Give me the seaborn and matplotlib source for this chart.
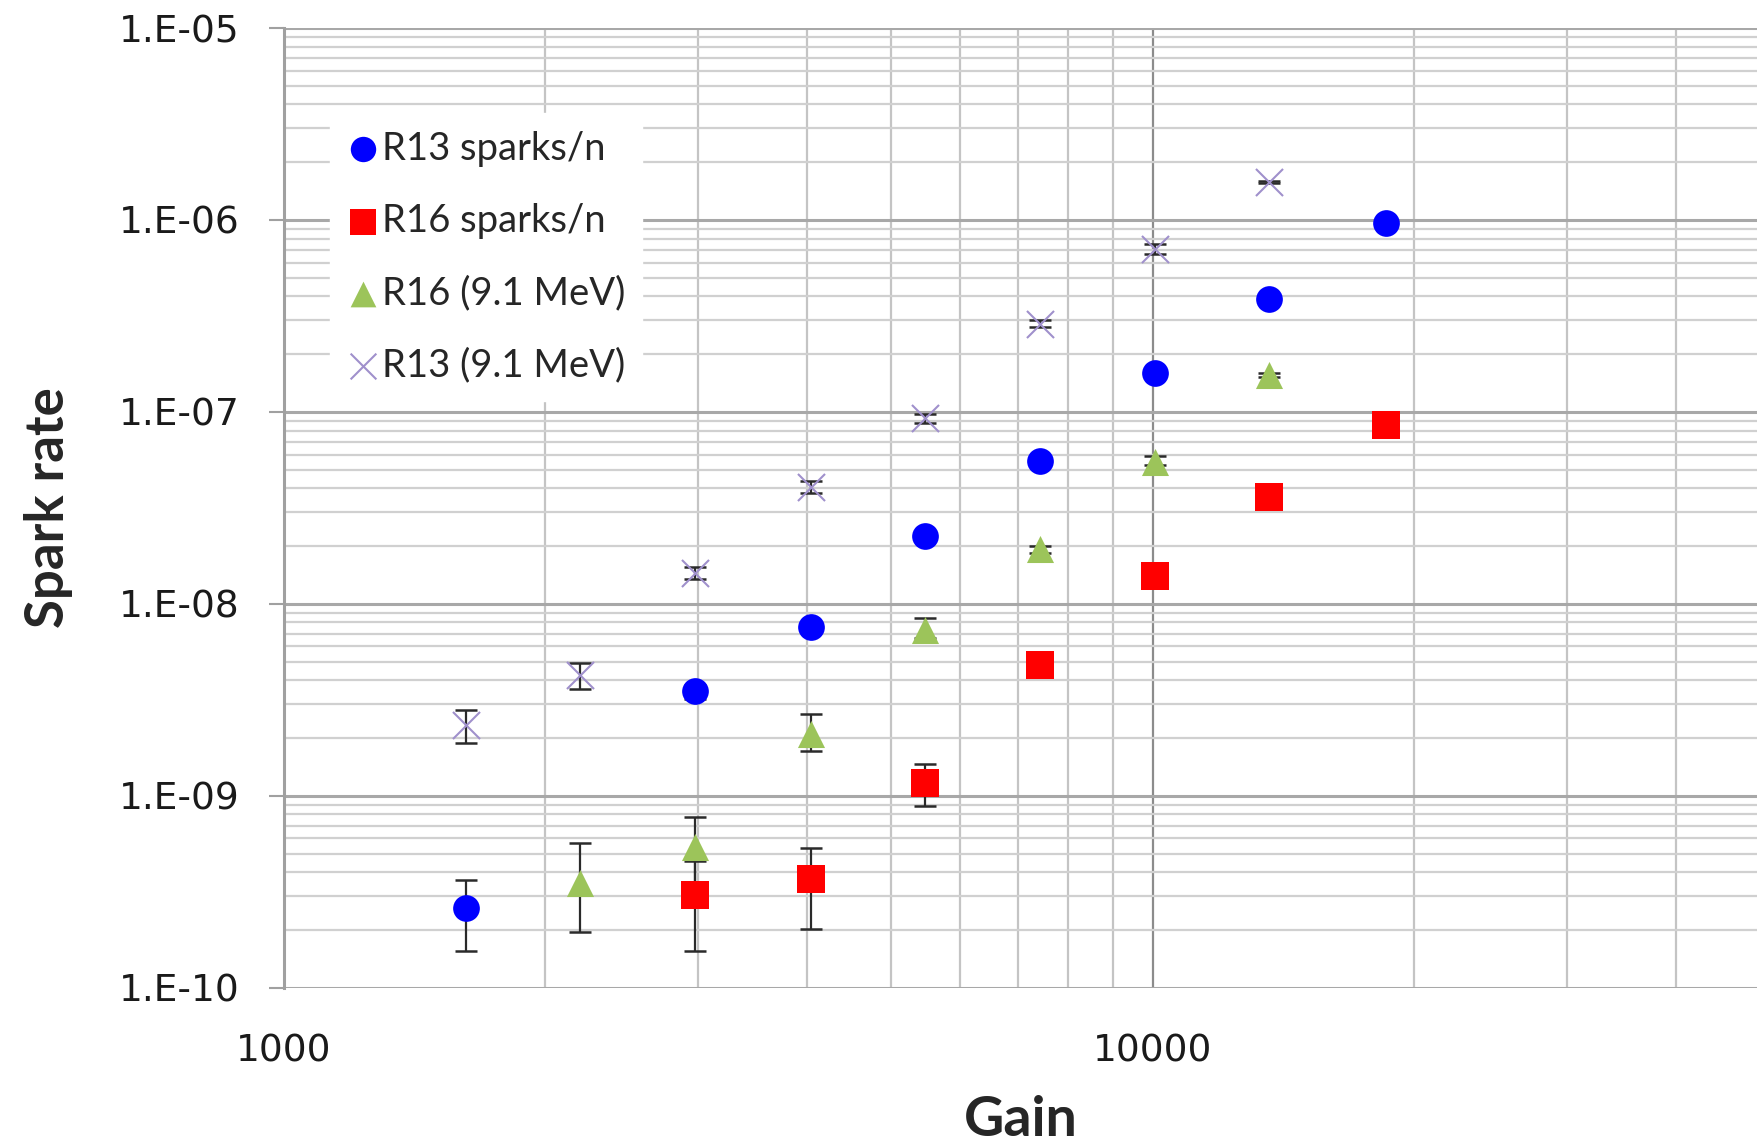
import numpy as np
import matplotlib
matplotlib.use("Agg")
import matplotlib.pyplot as plt
from matplotlib.ticker import FixedLocator, FuncFormatter, NullFormatter
import seaborn as sns

# values (error bars as lower / upper lengths)
r13_gain = [1620, 2975, 4040, 5470, 7430, 10060, 13620, 18550]
r13_rate = [2.6e-10, 3.5e-9, 7.6e-9, 2.26e-8, 5.56e-8, 1.59e-7, 3.86e-7, 9.63e-7]
r13_err_lo = [1.05e-10, 0.3e-9, 0, 0, 0, 0, 0, 0]
r13_err_hi = [1.05e-10, 0.3e-9, 0, 0, 0, 0, 0, 0]

r16_gain = [2975, 4040, 5470, 7430, 10060, 13620, 18550]
r16_rate = [3.05e-10, 3.67e-10, 1.16e-9, 4.81e-9, 1.39e-8, 3.62e-8, 8.56e-8]
r16_err_lo = [1.5e-10, 1.65e-10, 0.28e-9, 0, 0, 0, 0]
r16_err_hi = [1.5e-10, 1.7e-10, 0.3e-9, 0, 0, 0, 0]

r16mev_gain = [2190, 2975, 4040, 5470, 7430, 10060, 13620]
r16mev_rate = [3.5e-10, 5.4e-10, 2.1e-9, 7.31e-9, 1.92e-8, 5.49e-8, 1.55e-7]
r16mev_err_lo = [1.55e-10, 2.4e-10, 0.39e-9, 0.7e-9, 0.8e-9, 2e-9, 3e-9]
r16mev_err_hi = [2.2e-10, 2.4e-10, 0.56e-9, 1.1e-9, 0.8e-9, 4e-9, 5e-9]

r13mev_gain = [1620, 2190, 2975, 4040, 5470, 7430, 10060, 13620]
r13mev_rate = [2.34e-9, 4.26e-9, 1.45e-8, 4.08e-8, 9.27e-8, 2.88e-7, 7.07e-7, 1.57e-6]
r13mev_err_lo = [0.45e-9, 0.65e-9, 1.0e-9, 3e-9, 5e-9, 1.2e-8, 4e-8, 2e-8]
r13mev_err_hi = [0.45e-9, 0.65e-9, 1.0e-9, 3e-9, 5e-9, 1.2e-8, 4e-8, 2e-8]

sns.set_style("white")
plt.rcParams['font.family'] = ['DejaVu Sans']

W, H = 1758, 1145
fig = plt.figure(figsize=(W / 100, H / 100), dpi=100)
left, right, top, bottom = 283.7, 1758, 28, 987.8
ax = fig.add_axes([left / W, 1 - bottom / H, (right - left) / W, (bottom - top) / H])

ax.set_xscale("log")
ax.set_yscale("log")
ax.set_xlim(1000, 49750)
ax.set_ylim(1e-10, 1e-5)

# grid like the spreadsheet chart
ax.set_axisbelow(True)
ax.yaxis.set_major_locator(FixedLocator([10.0 ** e for e in range(-10, -4)]))
ax.yaxis.set_minor_locator(FixedLocator([m * 10.0 ** e for e in range(-10, -5) for m in range(2, 10)]))
ax.xaxis.set_major_locator(FixedLocator([1000, 10000]))
ax.xaxis.set_minor_locator(FixedLocator([m * 1000 for m in range(2, 10)] + [m * 10000 for m in range(2, 5)]))
ax.yaxis.set_major_formatter(FuncFormatter(lambda v, p: "1.E-%02d" % int(round(-np.log10(v)))))
ax.xaxis.set_major_formatter(FuncFormatter(lambda v, p: "%d" % v))
ax.xaxis.set_minor_formatter(NullFormatter())
ax.yaxis.set_minor_formatter(NullFormatter())

ax.grid(which="major", axis="y", color="#a8a8a8", linewidth=2.2)
ax.grid(which="minor", axis="y", color="#d0d0d0", linewidth=1.6)
ax.grid(which="major", axis="x", color="#8c8c8c", linewidth=1.6)
ax.grid(which="minor", axis="x", color="#c4c4c4", linewidth=1.6)

for s in ["top", "right", "bottom"]:
    ax.spines[s].set_visible(False)
ax.spines["left"].set_color("#a0a0a0")
ax.spines["left"].set_linewidth(2.2)

ax.tick_params(axis="y", which="major", length=11, width=1.5, color="#a0a0a0",
               pad=21, labelsize=27, labelcolor="#1a1a1a", left=True)
ax.tick_params(axis="y", which="minor", length=0)
ax.tick_params(axis="x", which="both", length=0, pad=33, labelsize=27, labelcolor="#1a1a1a")

# error bars
series_err = [(r13_gain, r13_rate, r13_err_lo, r13_err_hi),
              (r16_gain, r16_rate, r16_err_lo, r16_err_hi),
              (r16mev_gain, r16mev_rate, r16mev_err_lo, r16mev_err_hi),
              (r13mev_gain, r13mev_rate, r13mev_err_lo, r13mev_err_hi)]
for xs, ys, lo, hi in series_err:
    ax.errorbar(xs, ys, yerr=[lo, hi], fmt="none", ecolor="#2a2a2a", elinewidth=1.6,
                capsize=8, capthick=1.8, zorder=3)

# markers
sns.scatterplot(x=r13_gain, y=r13_rate, ax=ax, marker="o", color="#0000ff", s=370,
                linewidth=0, label="R13 sparks/n", zorder=4)
sns.scatterplot(x=r16_gain, y=r16_rate, ax=ax, marker="s", color="#ff0000", s=400,
                linewidth=0, label="R16 sparks/n", zorder=4)
sns.scatterplot(x=r16mev_gain, y=r16mev_rate, ax=ax, marker="^", color="#9cc45a", s=380,
                linewidth=0, label="R16 (9.1 MeV)", zorder=4)
sns.scatterplot(x=r13mev_gain, y=r13mev_rate, ax=ax, marker="x", color="#a090cc", s=380,
                linewidth=1.5, label="R13 (9.1 MeV)", zorder=4)

ax.set_xlabel("Gain", fontsize=40, fontweight="bold", family="Lato", labelpad=18)
ax.set_ylabel("Spark rate", fontsize=38, fontweight="bold", family="Lato", labelpad=33)

leg = ax.legend(loc="upper left", bbox_to_anchor=(0.0186, 0.931), frameon=True,
                fancybox=False, framealpha=1, edgecolor="white", facecolor="white",
                prop={"family": "Lato", "size": 27.5}, handletextpad=0.1,
                labelspacing=0.95, borderpad=0.45, handlelength=0.8, markerscale=0.95)

fig.savefig("out.png", dpi=100)
